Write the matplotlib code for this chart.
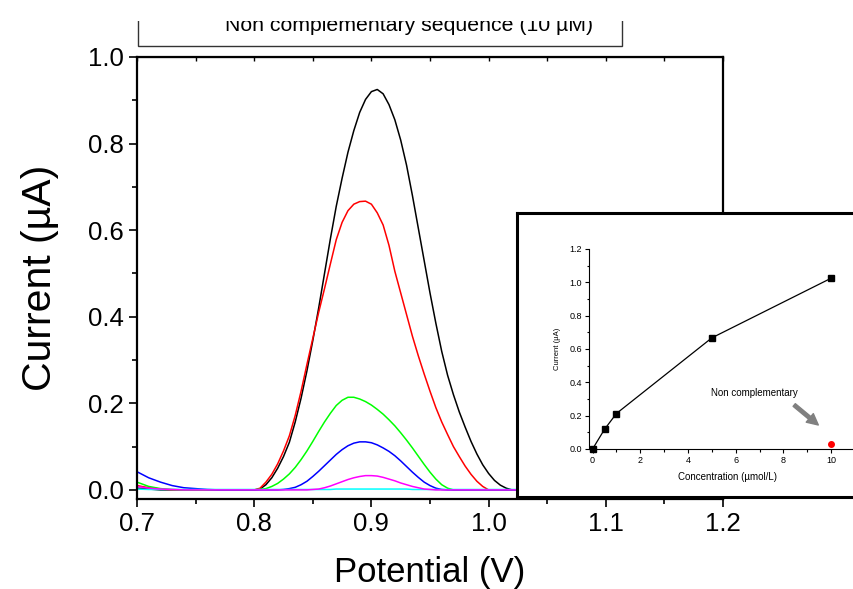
import matplotlib
matplotlib.use("Agg")
import matplotlib.pyplot as plt
from matplotlib.patches import Rectangle
from matplotlib.ticker import MultipleLocator, FormatStrFormatter

plt.rcParams['font.family'] = ['Liberation Sans', 'DejaVu Sans']

# potential axis (V): coarse on the flat start, finer across the peaks
potential = [0.70, 0.71, 0.72, 0.73, 0.74, 0.75, 0.76, 0.77, 0.78, 0.79,
             0.800, 0.805, 0.810, 0.815, 0.820, 0.825, 0.830, 0.835, 0.840, 0.845,
             0.850, 0.855, 0.860, 0.865, 0.870, 0.875, 0.880, 0.885, 0.890, 0.895,
             0.900, 0.905, 0.910, 0.915, 0.920, 0.925, 0.930, 0.935, 0.940, 0.945,
             0.950, 0.955, 0.960, 0.965, 0.970, 0.975, 0.980, 0.985, 0.990, 0.995,
             1.000, 1.005, 1.010, 1.015, 1.020, 1.025, 1.030,
             1.04, 1.05]

# currents (uA), same order as potential
i_10uM = [0.004, 0.002, 0.0, 0.0, 0.0, 0.0, 0.0, 0.0, 0.0, 0.0,
          0.0, 0.002, 0.012, 0.028, 0.05, 0.077, 0.11, 0.157, 0.212, 0.275,
          0.345, 0.42, 0.50, 0.58, 0.655, 0.72, 0.78, 0.83, 0.872, 0.902,
          0.92, 0.925, 0.915, 0.89, 0.855, 0.808, 0.75, 0.68, 0.605, 0.53,
          0.455, 0.385, 0.32, 0.265, 0.22, 0.18, 0.145, 0.112, 0.083, 0.058,
          0.038, 0.022, 0.011, 0.004, 0.0, 0.0, 0.0,
          0.0, 0.0]
i_5uM = [0.010, 0.005, 0.002, 0.0, 0.0, 0.0, 0.0, 0.0, 0.0, 0.0,
         0.0, 0.004, 0.018, 0.036, 0.06, 0.09, 0.125, 0.172, 0.228, 0.29,
         0.35, 0.41, 0.465, 0.522, 0.578, 0.618, 0.645, 0.66, 0.666, 0.667,
         0.66, 0.64, 0.612, 0.565, 0.505, 0.455, 0.405, 0.355, 0.31, 0.268,
         0.228, 0.19, 0.157, 0.128, 0.10, 0.077, 0.055, 0.036, 0.02, 0.008,
         0.0, 0.0, 0.0, 0.0, 0.0, 0.0, 0.0,
         0.0, 0.0]
i_1uM = [0.018, 0.008, 0.003, 0.001, 0.0, 0.0, 0.0, 0.0, 0.0, 0.0,
         0.0, 0.001, 0.003, 0.008, 0.015, 0.025, 0.037, 0.052, 0.07, 0.09,
         0.112, 0.135, 0.157, 0.177, 0.195, 0.207, 0.214, 0.214, 0.21, 0.204,
         0.196, 0.186, 0.175, 0.162, 0.148, 0.132, 0.115, 0.097, 0.078, 0.059,
         0.041, 0.025, 0.012, 0.004, 0.0, 0.0, 0.0, 0.0, 0.0, 0.0,
         0.0, 0.0, 0.0, 0.0, 0.0, 0.0, 0.0,
         0.0, 0.0]
i_05uM = [0.042, 0.028, 0.018, 0.010, 0.005, 0.003, 0.001, 0.0, 0.0, 0.0,
          0.0, 0.0, 0.0, 0.0, 0.0, 0.001, 0.003, 0.006, 0.012, 0.02,
          0.031, 0.043, 0.056, 0.069, 0.082, 0.093, 0.102, 0.108, 0.111, 0.111,
          0.109, 0.104, 0.097, 0.089, 0.079, 0.067, 0.054, 0.041, 0.029, 0.018,
          0.01, 0.004, 0.001, 0.0, 0.0, 0.0, 0.0, 0.0, 0.0, 0.0,
          0.0, 0.0, 0.0, 0.0, 0.0, 0.0, 0.0,
          0.0, 0.0]
i_noncomp = [0.008, 0.004, 0.002, 0.001, 0.0, 0.0, 0.0, 0.0, 0.0, 0.0,
             0.0, 0.0, 0.0, 0.0, 0.0, 0.0, 0.0, 0.0, 0.0, 0.0,
             0.001, 0.002, 0.005, 0.009, 0.014, 0.019, 0.024, 0.028, 0.031, 0.033,
             0.033, 0.032, 0.029, 0.025, 0.021, 0.016, 0.012, 0.008, 0.005, 0.002,
             0.001, 0.0, 0.0, 0.0, 0.0, 0.0, 0.0, 0.0, 0.0, 0.0,
             0.0, 0.0, 0.0, 0.0, 0.0, 0.0, 0.0,
             0.0, 0.0]
i_blank = [0.002, 0.001, 0.001, 0.001, 0.001, 0.001, 0.001, 0.001, 0.001, 0.001,
           0.001, 0.001, 0.001, 0.001, 0.001, 0.001, 0.001, 0.001, 0.001, 0.001,
           0.001, 0.001, 0.001, 0.001, 0.002, 0.002, 0.002, 0.002, 0.002, 0.002,
           0.002, 0.002, 0.002, 0.002, 0.002, 0.002, 0.002, 0.001, 0.001, 0.001,
           0.001, 0.001, 0.001, 0.001, 0.001, 0.001, 0.001, 0.001, 0.001, 0.001,
           0.001, 0.001, 0.001, 0.001, 0.001, 0.001, 0.001,
           0.001, 0.001]

curves = [i_10uM, i_5uM, i_1uM, i_05uM, i_blank, i_noncomp]
colors = ['black', '#ff0000', '#00ff00', '#0000ff', '#00ffff', '#ff00ff']

# calibration inset
conc = [0, 0.5, 1, 5, 10]
peak_current = [0.0, 0.118, 0.213, 0.667, 1.025]
noncomp_conc = [10]
noncomp_current = [0.033]

W, H = 854, 589
fig = plt.figure(figsize=(W / 100, H / 100), dpi=100)

ax = fig.add_axes([137 / W, 1 - 499 / H, 586 / W, 442 / H])
for y, c in zip(curves, colors):
    ax.plot(potential, y, color=c, lw=1.1)
ax.set_xlim(0.7, 1.2)
ax.set_ylim(-0.021, 1.0)
ax.xaxis.set_major_locator(MultipleLocator(0.1))
ax.xaxis.set_minor_locator(MultipleLocator(0.05))
ax.yaxis.set_major_locator(MultipleLocator(0.2))
ax.yaxis.set_minor_locator(MultipleLocator(0.1))
ax.tick_params(which='major', direction='out', length=6, width=1.2, labelsize=18.5)
ax.tick_params(which='minor', direction='out', length=3.5, width=1.2)
for s in ax.spines.values():
    s.set_linewidth(1.6)
ax.set_xlabel('Potential (V)', fontsize=25, labelpad=14)
ax.set_ylabel('Current (µA)', fontsize=29.5, labelpad=21)

# small inward ticks along the top edge
top = ax.secondary_xaxis('top')
top.xaxis.set_major_locator(MultipleLocator(0.05))
top.tick_params(direction='in', length=3, width=1.0, labeltop=False)

# title box clipped at the top of the figure
fig.patches.append(Rectangle((138 / W, 1 - 46 / H), 484 / W, 60 / H,
                             transform=fig.transFigure, facecolor='white',
                             edgecolor='#333333', lw=1.0, zorder=1))
fig.text(409 / W, 1 - 31 / H, 'Non complementary sequence (10 µM)',
         ha='center', va='baseline', fontsize=15.3, zorder=2)
fig.patches.append(Rectangle((0, 1 - 21 / H), 1, 21 / H, transform=fig.transFigure,
                             facecolor='white', edgecolor='none', zorder=3))

# inset frame
box = fig.add_axes([517 / W, 1 - 497 / H, 400 / W, 284 / H])
box.set_xticks([])
box.set_yticks([])
for s in box.spines.values():
    s.set_linewidth(2.2)

ins = fig.add_axes([589 / W, 1 - 449 / H, 278 / W, 200 / H])
ins.patch.set_alpha(0)
ins.plot(conc, peak_current, color='black', lw=0.9, marker='s', ms=4, clip_on=False)
ins.plot(noncomp_conc, noncomp_current, 'o', color='#ff0000', ms=4, clip_on=False)
ins.set_xlim(-0.15, 11.5)
ins.set_ylim(0, 1.2)
ins.xaxis.set_major_locator(MultipleLocator(2))
ins.xaxis.set_minor_locator(MultipleLocator(1))
ins.yaxis.set_major_locator(MultipleLocator(0.2))
ins.yaxis.set_minor_locator(MultipleLocator(0.1))
ins.yaxis.set_major_formatter(FormatStrFormatter('%.1f'))
ins.tick_params(which='major', direction='out', length=3, width=0.8, labelsize=6.5, pad=2)
ins.tick_params(which='minor', direction='out', length=1.8, width=0.8)
ins.spines['top'].set_visible(False)
ins.spines['right'].set_visible(False)
for s in ['left', 'bottom']:
    ins.spines[s].set_linewidth(0.8)
ins.set_xlabel('Concentration (µmol/L)', fontsize=7, labelpad=5)
ins.set_ylabel('Current (µA)', fontsize=5.5, labelpad=6)
ins.text(6.78, 0.336, 'Non complementary', fontsize=7, ha='center', va='center')
ins.annotate('', xy=(9.46, 0.144), xytext=(8.45, 0.264),
             arrowprops=dict(facecolor='#808080', edgecolor='#808080',
                             width=2.5, headwidth=8, headlength=8))

fig.savefig('out.png', dpi=100)
